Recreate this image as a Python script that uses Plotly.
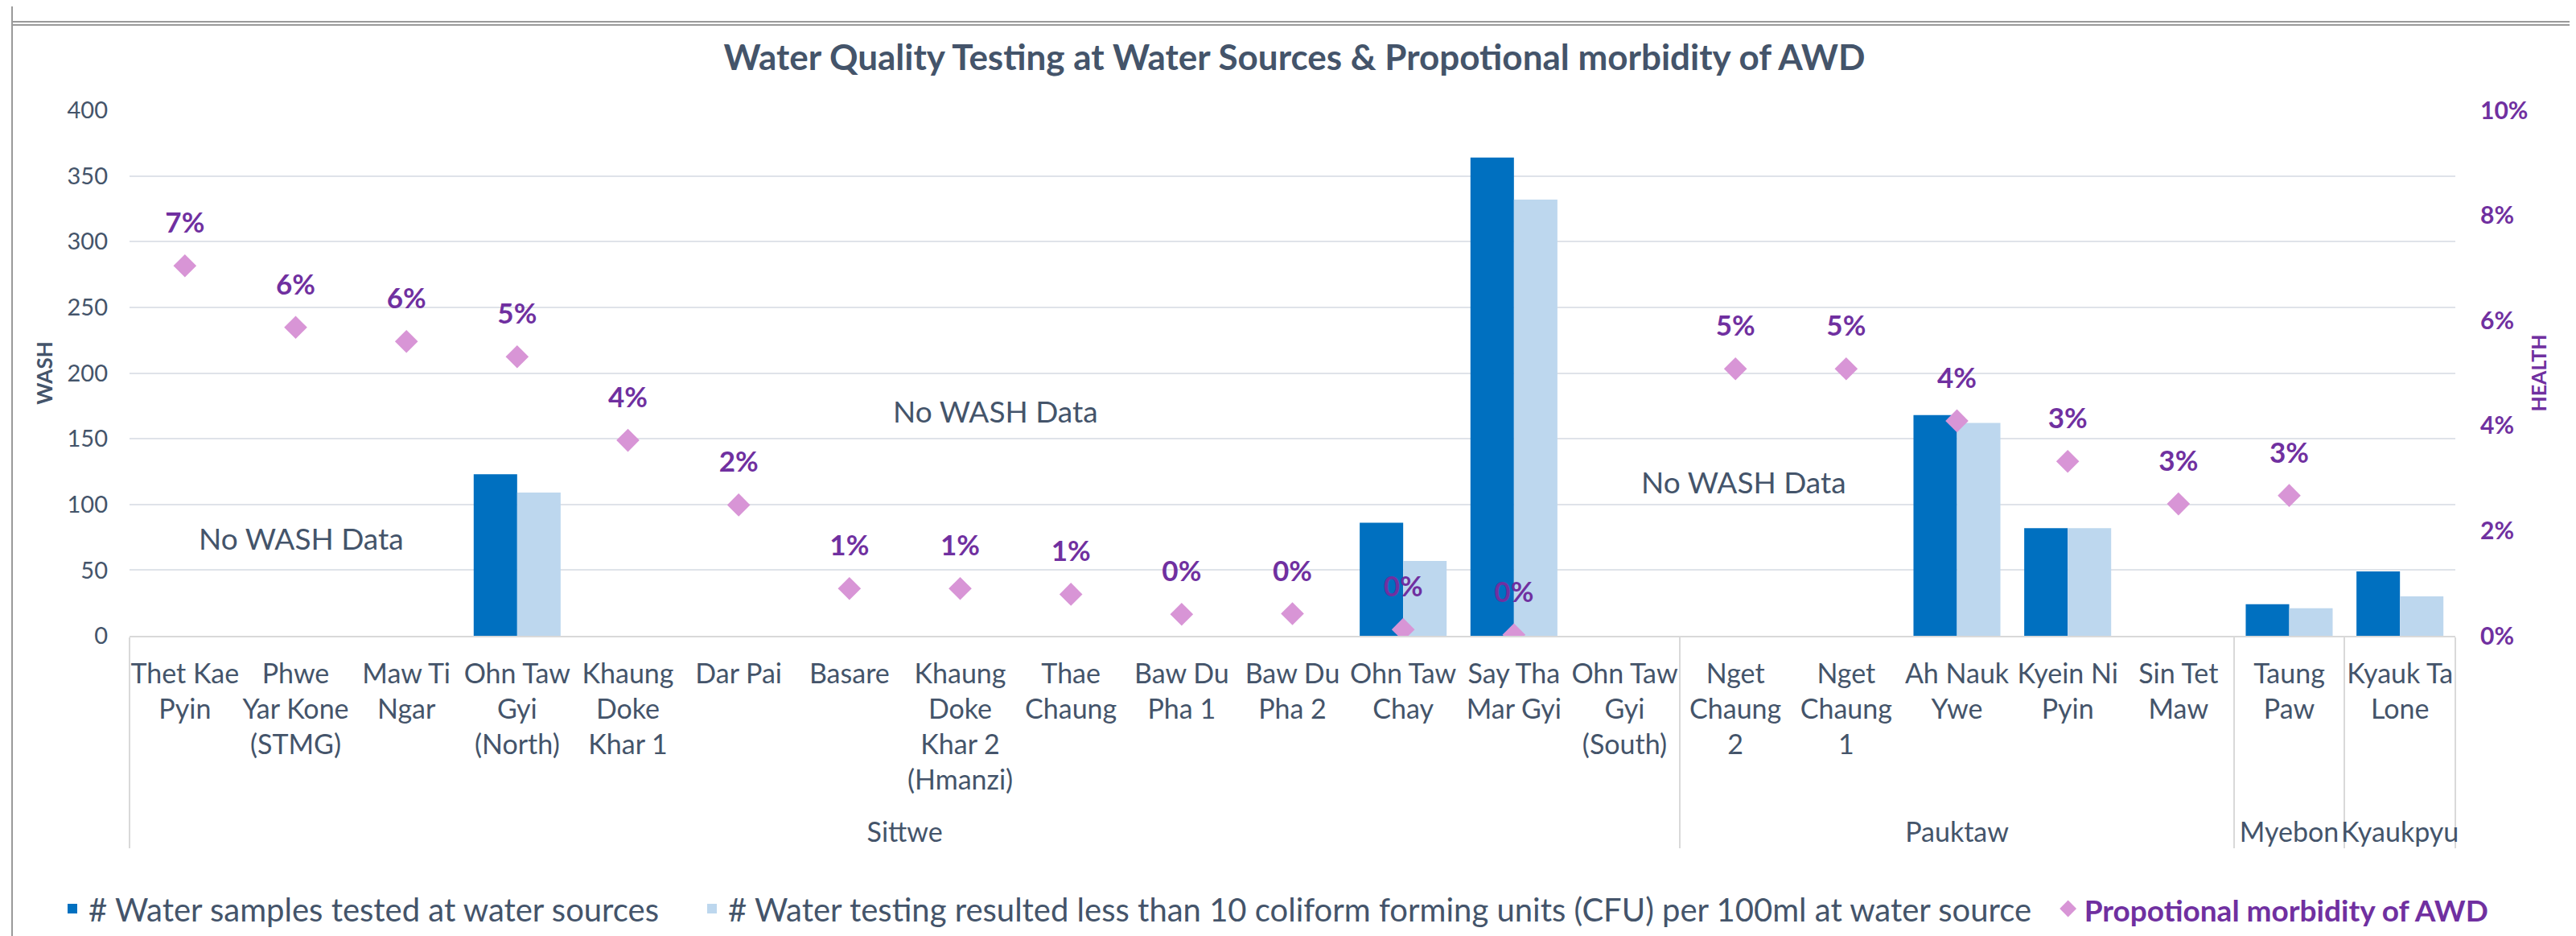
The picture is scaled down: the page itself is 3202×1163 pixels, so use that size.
import plotly.graph_objects as go

# ---------------- data ----------------
districts = ["Sittwe"] * 14 + ["Pauktaw"] * 5 + ["Myebon"] + ["Kyaukpyu"]
sites = [
    "Thet Kae<br>Pyin", "Phwe<br>Yar Kone<br>(STMG)", "Maw Ti<br>Ngar", "Ohn Taw<br>Gyi<br>(North)",
    "Khaung<br>Doke<br>Khar 1", "Dar Pai", "Basare", "Khaung<br>Doke<br>Khar 2<br>(Hmanzi)",
    "Thae<br>Chaung", "Baw Du<br>Pha 1", "Baw Du<br>Pha 2", "Ohn Taw<br>Chay", "Say Tha<br>Mar Gyi",
    "Ohn Taw<br>Gyi<br>(South)", "Nget<br>Chaung<br>2", "Nget<br>Chaung<br>1", "Ah Nauk<br>Ywe",
    "Kyein Ni<br>Pyin", "Sin Tet<br>Maw", "Taung<br>Paw", "Kyauk Ta<br>Lone",
]
samples_tested = [None, None, None, 123, None, None, None, None, None, None, None,
                  86, 364, None, None, None, 168, 82, None, 24, 49]
samples_safe = [None, None, None, 109, None, None, None, None, None, None, None,
                57, 332, None, None, None, 162, 82, None, 21, 30]
awd_morbidity = [0.0704, 0.0587, 0.0560, 0.0531, 0.0372, 0.0249, 0.0090, 0.0090, 0.0079,
                 0.0041, 0.0042, 0.0012, 0.0002, None, 0.0508, 0.0508, 0.0409, 0.0332,
                 0.0251, 0.0267, None]
no_data_notes = [  # (paper x, WASH value y)
    (0.074, 74.7), (0.3725, 171), (0.694, 117.6)
]

# ---------------- style ----------------
FONT = "Lato"
SLATE = "#44546A"
PURPLE = "#7030A0"
DARK_BLUE = "#0070C0"
LIGHT_BLUE = "#BDD7EE"
ORCHID = "#D895D6"
GRID = "#DFE3E9"

W, H = 3202, 1163
L, R, T, B = 153, 158, 129, 381
PW, PH = W - L - R, H - T - B


def px_x(px):
    return (px - L) / PW


def px_y(py):
    return (H - B - py) / PH


# extra tiny spacer line under the tallest label gives the district row its gap
max_lines = max(s.count("<br>") for s in sites)
site_labels = [s + "<br><span style='font-size:2px'>\u00a0</span>" if s.count("<br>") == max_lines else s
               for s in sites]
x = [districts, site_labels]
n_cat = len(sites)

NB = "\u00a0"
fig = go.Figure()
fig.add_trace(go.Bar(
    x=x, y=samples_tested, name="# Water samples tested at water sources" + NB * 4,
    marker=dict(color=DARK_BLUE, line=dict(width=0)), yaxis="y",
))
fig.add_trace(go.Bar(
    x=x, y=samples_safe,
    name="# Water testing resulted less than 10 coliform forming units (CFU) per 100ml at water source" + NB * 2,
    marker=dict(color=LIGHT_BLUE, line=dict(width=0)), yaxis="y",
))
fig.add_trace(go.Scatter(
    x=x, y=awd_morbidity, yaxis="y2", mode="markers",
    name=f"<span style='color:{PURPLE};font-size:37px'><b>Propotional morbidity of AWD</b></span>",
    marker=dict(symbol="diamond", size=22, color=ORCHID, line=dict(width=0)),
))
# data labels (pushed up with an invisible marker)
fig.add_trace(go.Scatter(
    x=x, y=awd_morbidity, yaxis="y2", mode="markers+text", showlegend=False,
    marker=dict(size=50, color="rgba(0,0,0,0)"),
    text=[None if v is None else f"{v:.0%}" for v in awd_morbidity],
    textposition="top center",
    textfont=dict(family=FONT, size=35, color=PURPLE, weight="bold"),
    hoverinfo="skip",
))

for nx, ny in no_data_notes:
    fig.add_annotation(x=nx, y=ny, xref="paper", yref="y", xanchor="center", yanchor="middle",
                       text="No WASH Data", showarrow=False,
                       font=dict(family=FONT, size=37, color=SLATE))

# chart frame
frame = "#9A9A9A"
fig.add_shape(type="line", xref="paper", yref="paper", x0=px_x(7), x1=px_x(7),
              y0=px_y(1170), y1=px_y(-5), line=dict(color=frame, width=2))
fig.add_shape(type="line", xref="paper", yref="paper", x0=px_x(3199), x1=px_x(3199),
              y0=px_y(1170), y1=px_y(-5), line=dict(color=frame, width=2))
fig.add_shape(type="line", xref="paper", yref="paper", x0=px_x(7), x1=px_x(3199),
              y0=px_y(19), y1=px_y(19), line=dict(color=frame, width=2))
fig.add_shape(type="line", xref="paper", yref="paper", x0=px_x(7), x1=px_x(3199),
              y0=px_y(23), y1=px_y(23), line=dict(color=frame, width=2))

fig.update_layout(
    width=W, height=H,
    margin=dict(l=L, r=R, t=T, b=B, autoexpand=False),
    paper_bgcolor="white", plot_bgcolor="white",
    font=dict(family=FONT, color=SLATE),
    title=dict(text="Water Quality Testing at Water Sources & Propotional morbidity of AWD",
               x=0.5, xanchor="center", y=1 - 64 / H, yanchor="middle",
               font=dict(family=FONT, size=44, color=SLATE, weight="bold")),
    barmode="group", bargap=0.215, bargroupgap=0,
    showlegend=True,
    legend=dict(orientation="h", x=px_x(62), xanchor="left", y=px_y(1121), yanchor="middle",
                font=dict(family=FONT, size=40, color=SLATE), itemwidth=30,
                bgcolor="rgba(0,0,0,0)"),
    xaxis=dict(
        type="multicategory", range=[-0.5, n_cat - 0.5], autorange=False,
        showgrid=False, showline=True, linecolor="#D9D9D9", linewidth=2,
        showdividers=True, dividercolor="#D9D9D9", dividerwidth=2,
        tickfont=dict(family=FONT, size=34, color=SLATE), ticks="", tickangle=0,
        ticklabelstandoff=16,
    ),
    yaxis=dict(
        range=[0, 400], dtick=50, showgrid=True, gridcolor=GRID, gridwidth=2,
        zeroline=False, showline=False, ticks="",
        tickfont=dict(family=FONT, size=29, color=SLATE), ticklabelstandoff=26,
        title=dict(text="WASH", font=dict(family=FONT, size=26, color=SLATE, weight="bold"),
                   standoff=10),
    ),
    yaxis2=dict(
        range=[0, 0.10], dtick=0.02, tickformat=".0%", overlaying="y", side="right",
        showgrid=False, zeroline=False, showline=False, ticks="",
        tickfont=dict(family=FONT, size=30, color=PURPLE, weight="bold"), ticklabelstandoff=30,
        title=dict(text="HEALTH", font=dict(family=FONT, size=25, color=PURPLE, weight="bold"),
                   standoff=6),
    ),
)

fig.write_html("out.html")
